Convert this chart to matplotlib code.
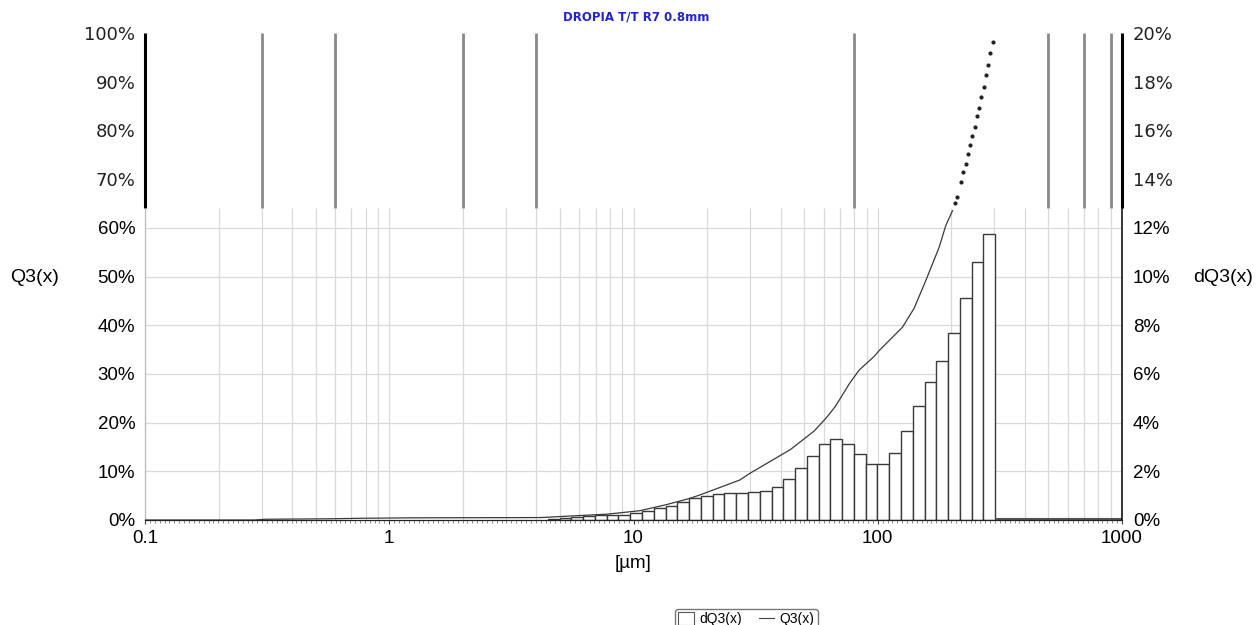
import numpy as np
import matplotlib.pyplot as plt
from matplotlib.patches import Patch
from matplotlib.lines import Line2D
from matplotlib.ticker import FixedLocator, NullFormatter

plt.rcParams['font.family'] = ['Liberation Sans', 'DejaVu Sans']

# size classes (um) and distribution density dQ3 (%)
size_edges = [4.46, 4.99, 5.57, 6.23, 6.96, 7.77, 8.68, 9.70, 10.84, 12.11,
              13.53, 15.12, 16.89, 18.87, 21.09, 23.56, 26.33, 29.42, 32.87,
              36.73, 41.04, 45.85, 51.23, 57.25, 63.97, 71.47, 79.86, 89.23,
              99.70, 111.4, 124.5, 139.1, 155.4, 173.6, 194.0, 216.8, 242.2,
              270.6, 302.4]
dq3 = [0.04, 0.10, 0.14, 0.16, 0.19, 0.20, 0.22, 0.30, 0.37, 0.48,
       0.59, 0.74, 0.89, 0.98, 1.05, 1.09, 1.09, 1.13, 1.20, 1.35,
       1.68, 2.12, 2.64, 3.14, 3.33, 3.14, 2.69, 2.28, 2.28, 2.77,
       3.66, 4.70, 5.66, 6.54, 7.68, 9.13, 10.59, 11.73]

# cumulative Q3 (%)
q3_size = [0.1, 0.28, 0.31, 0.57, 0.76, 1.25, 4.15, 7.8, 10.6, 13.5, 16.9,
           18.6, 27.2, 30.0, 44.0, 55.0, 61.6, 67.0, 77.0, 84.0, 96.7, 101.4,
           126.3, 141.0, 157.4, 178.4, 190.0, 202.3]
q3_val = [0.0, 0.0, 0.15, 0.25, 0.35, 0.45, 0.5, 1.2, 1.9, 3.1, 4.4,
          5.1, 8.2, 9.6, 14.5, 18.3, 21.0, 23.3, 28.2, 30.8, 33.6, 34.8,
          39.6, 43.5, 49.2, 56.0, 60.5, 63.5]
# upper part of Q3, shown dotted
q3_dot_size = [207.5, 210.9, 219.6, 224.4, 229.5, 233.8, 238.9, 244.2, 249.8,
               254.5, 260.1, 265.8, 271.8, 277.0, 283.1, 289.3, 295.9]
q3_dot_val = [65.0, 66.4, 69.5, 71.4, 73.2, 75.1, 76.9, 78.8, 80.6,
              82.9, 84.7, 86.8, 88.9, 91.3, 93.5, 95.8, 98.2]

upper_lines = [0.3, 0.6, 2, 4, 80, 500, 700, 900]
x_ticks = [0.1, 1, 10, 100, 1000]
x_labels = ['0.1', '1', '10', '100', '1000']
split = 64.0  # Q3 level where the lower grid stops

fig = plt.figure(figsize=(12.6, 6.25), dpi=100)
ax = fig.add_axes([145 / 1260, 1 - 520 / 625, 977 / 1260, 487 / 625])
ax2 = ax.twinx()
ax.set_zorder(2)
ax.patch.set_visible(False)

for a in (ax, ax2):
    a.set_xscale('log')
    a.set_xlim(0.1, 1000)
    for s in ('top', 'left', 'right'):
        a.spines[s].set_visible(False)
ax.set_ylim(0, 100)
ax2.set_ylim(0, 20)

# lower grid
grid_x = [m * 10.0 ** k for k in range(-1, 3) for m in range(1, 10)] + [1000]
ax2.vlines(grid_x, 0, split / 5, color='#d9d9d9', lw=0.9, zorder=0)
ax2.hlines(np.arange(2, 13, 2), 0.1, 1000, color='#d9d9d9', lw=0.9, zorder=0)

# upper region lines
ax.vlines(upper_lines, split, 100, color='#8a8a8a', lw=2)
ax.vlines([0.1, 1000], split, 100, color='black', lw=2.2, clip_on=False)
ax.vlines([0.1], 0, split, color='#bbbbbb', lw=0.9, clip_on=False)
ax.vlines([1000], 0, split, color='black', lw=1.1, clip_on=False)
ax.spines['bottom'].set_color('#222222')

# bars
ax2.bar(size_edges[:-1], dq3, width=np.diff(size_edges), align='edge',
        facecolor='white', edgecolor='#3a3a3a', lw=1, zorder=2)
ax2.hlines(0.05, size_edges[-1], 1000, color='#555555', lw=1.5, zorder=2)

ax.plot(q3_size, q3_val, color='#3a3a3a', lw=0.9)
ax.plot(q3_dot_size, q3_dot_val, 'o', ms=2, color='#222222', ls='none')

# ticks
ax.set_xticks(x_ticks)
ax.set_xticklabels(x_labels, fontsize=13.5)
ax.xaxis.set_minor_locator(FixedLocator(10 ** np.arange(-1, 3, 0.02)))
ax.xaxis.set_minor_formatter(NullFormatter())
ax.tick_params(axis='x', which='major', length=3, pad=4, color='#444444')
ax.tick_params(axis='x', which='minor', length=2, color='#777777')
ax2.tick_params(axis='x', which='both', length=0, labelbottom=False)

left_ticks = list(range(0, 101, 10))
ax.set_yticks(left_ticks)
ax.set_yticklabels([f'{t}%' for t in left_ticks])
right_ticks = list(range(0, 21, 2))
ax2.set_yticks(right_ticks)
ax2.set_yticklabels([f'{t}%' for t in right_ticks])
ax.tick_params(axis='y', length=0, pad=7)
ax2.tick_params(axis='y', length=0, pad=8)
for t, lbl in zip(left_ticks, ax.get_yticklabels()):
    if t > split:
        lbl.set_fontfamily('DejaVu Sans')
        lbl.set_fontsize(13)
        lbl.set_color('#222222')
    else:
        lbl.set_fontsize(13.5)
for t, lbl in zip(right_ticks, ax2.get_yticklabels()):
    if t * 5 > split:
        lbl.set_fontfamily('DejaVu Sans')
        lbl.set_fontsize(13)
        lbl.set_color('#222222')
    else:
        lbl.set_fontsize(13.5)

ax.set_xlabel('[µm]', fontsize=13.5, labelpad=6)
fig.text(10 / 1260, 1 - 278 / 625, 'Q3(x)', fontsize=14, va='center', ha='left')
fig.text(1193 / 1260, 1 - 278 / 625, 'dQ3(x)', fontsize=14, va='center', ha='left')
fig.text(636 / 1260, 1 - 17 / 625, 'DROPIA T/T R7 0.8mm', color='#2020e0',
         fontsize=8.5, fontweight='bold', family='DejaVu Sans', ha='center', va='center')

handles = [Patch(facecolor='white', edgecolor='#555555', lw=0.8),
           Line2D([], [], color='#444444', lw=0.8)]
fig.legend(handles, ['dQ3(x)', 'Q3(x)'], ncol=2, loc='upper left',
           bbox_to_anchor=(668 / 1260, 1 - 602 / 625), fontsize=10,
           frameon=True, fancybox=True, edgecolor='#777777', framealpha=1,
           handlelength=1.1, handleheight=1.0, handletextpad=0.4,
           columnspacing=1.2, borderpad=0.25)

fig.savefig('out.png', dpi=100)
